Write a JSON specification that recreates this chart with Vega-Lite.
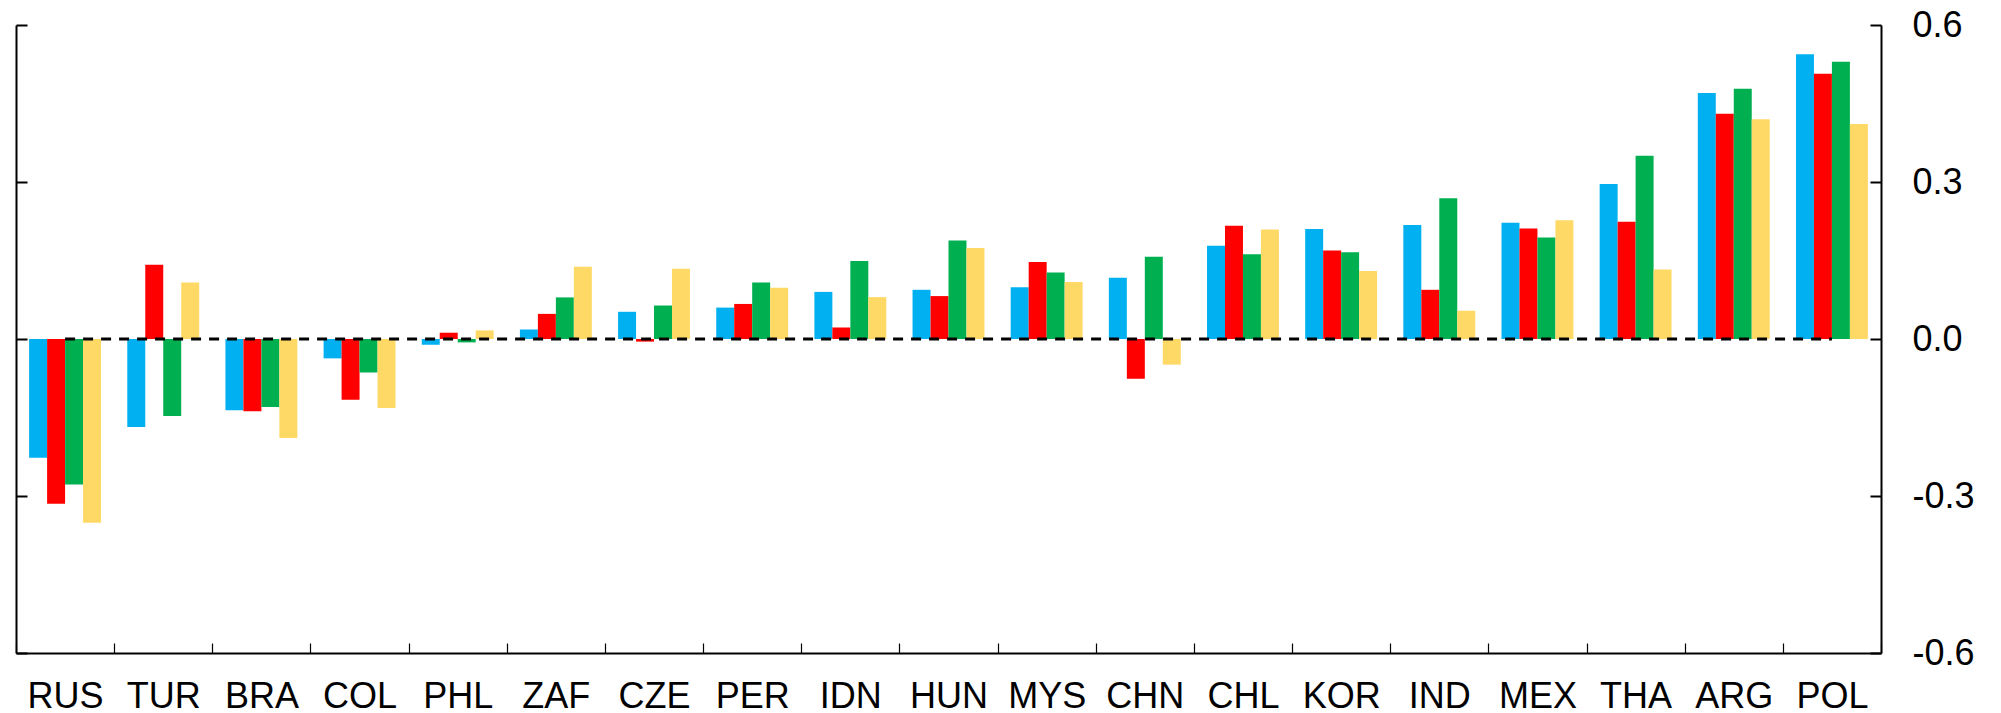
{
  "$schema": "https://vega.github.io/schema/vega-lite/v6.json",
  "width": 1865,
  "height": 628,
  "autosize": {"type": "none"},
  "padding": {"left": 16, "top": 25, "right": 120, "bottom": 60},
  "datasets": {
    "bars": [
      {"country": "RUS", "series": "A", "value": -0.227},
      {"country": "RUS", "series": "B", "value": -0.315},
      {"country": "RUS", "series": "C", "value": -0.278},
      {"country": "RUS", "series": "D", "value": -0.351},
      {"country": "TUR", "series": "A", "value": -0.168},
      {"country": "TUR", "series": "B", "value": 0.142},
      {"country": "TUR", "series": "C", "value": -0.147},
      {"country": "TUR", "series": "D", "value": 0.108},
      {"country": "BRA", "series": "A", "value": -0.136},
      {"country": "BRA", "series": "B", "value": -0.138},
      {"country": "BRA", "series": "C", "value": -0.130},
      {"country": "BRA", "series": "D", "value": -0.189},
      {"country": "COL", "series": "A", "value": -0.037},
      {"country": "COL", "series": "B", "value": -0.116},
      {"country": "COL", "series": "C", "value": -0.064},
      {"country": "COL", "series": "D", "value": -0.132},
      {"country": "PHL", "series": "A", "value": -0.011},
      {"country": "PHL", "series": "B", "value": 0.012},
      {"country": "PHL", "series": "C", "value": -0.0065},
      {"country": "PHL", "series": "D", "value": 0.0164},
      {"country": "ZAF", "series": "A", "value": 0.018},
      {"country": "ZAF", "series": "B", "value": 0.048},
      {"country": "ZAF", "series": "C", "value": 0.0795},
      {"country": "ZAF", "series": "D", "value": 0.138},
      {"country": "CZE", "series": "A", "value": 0.052},
      {"country": "CZE", "series": "B", "value": -0.005},
      {"country": "CZE", "series": "C", "value": 0.064},
      {"country": "CZE", "series": "D", "value": 0.134},
      {"country": "PER", "series": "A", "value": 0.060},
      {"country": "PER", "series": "B", "value": 0.067},
      {"country": "PER", "series": "C", "value": 0.108},
      {"country": "PER", "series": "D", "value": 0.098},
      {"country": "IDN", "series": "A", "value": 0.090},
      {"country": "IDN", "series": "B", "value": 0.022},
      {"country": "IDN", "series": "C", "value": 0.149},
      {"country": "IDN", "series": "D", "value": 0.080},
      {"country": "HUN", "series": "A", "value": 0.094},
      {"country": "HUN", "series": "B", "value": 0.082},
      {"country": "HUN", "series": "C", "value": 0.188},
      {"country": "HUN", "series": "D", "value": 0.174},
      {"country": "MYS", "series": "A", "value": 0.099},
      {"country": "MYS", "series": "B", "value": 0.147},
      {"country": "MYS", "series": "C", "value": 0.127},
      {"country": "MYS", "series": "D", "value": 0.109},
      {"country": "CHN", "series": "A", "value": 0.117},
      {"country": "CHN", "series": "B", "value": -0.076},
      {"country": "CHN", "series": "C", "value": 0.157},
      {"country": "CHN", "series": "D", "value": -0.049},
      {"country": "CHL", "series": "A", "value": 0.178},
      {"country": "CHL", "series": "B", "value": 0.2165},
      {"country": "CHL", "series": "C", "value": 0.162},
      {"country": "CHL", "series": "D", "value": 0.209},
      {"country": "KOR", "series": "A", "value": 0.210},
      {"country": "KOR", "series": "B", "value": 0.169},
      {"country": "KOR", "series": "C", "value": 0.166},
      {"country": "KOR", "series": "D", "value": 0.130},
      {"country": "IND", "series": "A", "value": 0.218},
      {"country": "IND", "series": "B", "value": 0.094},
      {"country": "IND", "series": "C", "value": 0.269},
      {"country": "IND", "series": "D", "value": 0.054},
      {"country": "MEX", "series": "A", "value": 0.222},
      {"country": "MEX", "series": "B", "value": 0.211},
      {"country": "MEX", "series": "C", "value": 0.194},
      {"country": "MEX", "series": "D", "value": 0.227},
      {"country": "THA", "series": "A", "value": 0.296},
      {"country": "THA", "series": "B", "value": 0.224},
      {"country": "THA", "series": "C", "value": 0.350},
      {"country": "THA", "series": "D", "value": 0.133},
      {"country": "ARG", "series": "A", "value": 0.470},
      {"country": "ARG", "series": "B", "value": 0.4305},
      {"country": "ARG", "series": "C", "value": 0.478},
      {"country": "ARG", "series": "D", "value": 0.420},
      {"country": "POL", "series": "A", "value": 0.544},
      {"country": "POL", "series": "B", "value": 0.507},
      {"country": "POL", "series": "C", "value": 0.530},
      {"country": "POL", "series": "D", "value": 0.411}
    ],
    "zero": [{"from": "RUS", "to": "POL", "value": 0}]
  },
  "layer": [
    {
      "data": {"name": "bars"},
      "mark": {"type": "bar"},
      "encoding": {
        "x": {
          "field": "country",
          "type": "nominal",
          "sort": null,
          "scale": {
            "domain": ["RUS", "TUR", "BRA", "COL", "PHL", "ZAF", "CZE", "PER", "IDN", "HUN", "MYS", "CHN", "CHL", "KOR", "IND", "MEX", "THA", "ARG", "POL"],
            "paddingInner": 0,
            "paddingOuter": 0
          },
          "axis": {
            "orient": "bottom",
            "title": null,
            "labelAngle": 0,
            "tickBand": "extent",
            "tickSize": -10,
            "tickWidth": 1.2,
            "tickColor": "black",
            "domainColor": "black",
            "domainWidth": 2,
            "labelFont": "Liberation Sans",
            "labelFontSize": 36,
            "labelColor": "black",
            "labelPadding": 36,
            "labelBaseline": "top"
          }
        },
        "xOffset": {
          "field": "series",
          "type": "nominal",
          "scale": {"domain": ["A", "B", "C", "D"], "paddingInner": 0, "paddingOuter": 0.73}
        },
        "y": {
          "field": "value",
          "type": "quantitative",
          "scale": {"domain": [-0.6, 0.6], "nice": false, "zero": false},
          "axis": {
            "orient": "right",
            "title": null,
            "values": [-0.6, -0.3, 0, 0.3, 0.6],
            "labelExpr": "datum.value < 0 ? '-' + format(-datum.value, '.1f') : format(datum.value, '.1f')",
            "grid": false,
            "tickSize": -11,
            "tickWidth": 2,
            "tickColor": "black",
            "domainColor": "black",
            "domainWidth": 2,
            "labelFont": "Liberation Sans",
            "labelFontSize": 36,
            "labelColor": "black",
            "labelPadding": 42,
            "labelFlush": false,
            "labelOverlap": false
          }
        },
        "color": {
          "field": "series",
          "type": "nominal",
          "scale": {"domain": ["A", "B", "C", "D"], "range": ["#00B0F0", "#FF0000", "#00B050", "#FFD966"]},
          "legend": null
        }
      }
    },
    {
      "data": {"name": "zero"},
      "mark": {"type": "rule", "color": "black", "strokeWidth": 3, "strokeDash": [10, 8]},
      "encoding": {
        "x": {"field": "from", "type": "nominal"},
        "x2": {"field": "to"},
        "y": {
          "field": "value",
          "type": "quantitative",
          "axis": {
            "orient": "left",
            "title": null,
            "labels": false,
            "values": [-0.6, -0.3, 0, 0.3, 0.6],
            "grid": false,
            "tickSize": -11,
            "tickWidth": 2,
            "tickColor": "black",
            "domainColor": "black",
            "domainWidth": 2
          }
        }
      }
    }
  ],
  "resolve": {"axis": {"y": "independent"}},
  "config": {"view": {"stroke": null}}
}
